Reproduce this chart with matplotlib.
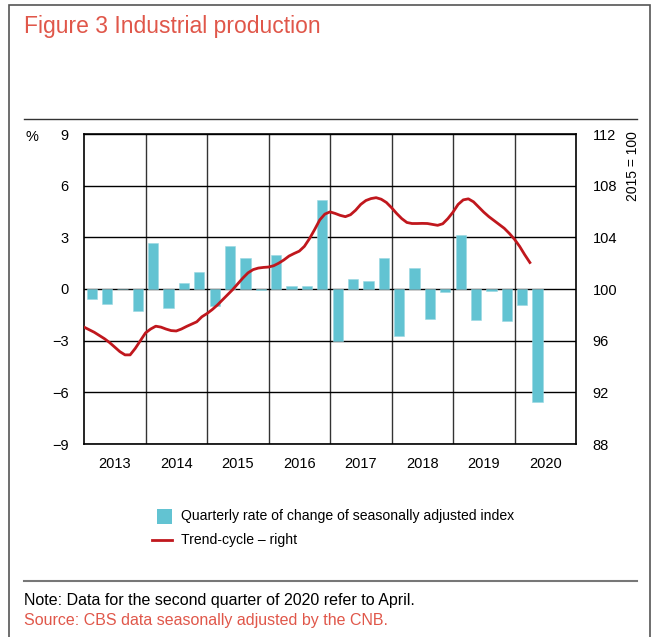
import numpy as np
import matplotlib.pyplot as plt
from matplotlib.patches import Rectangle
from matplotlib.lines import Line2D

plt.rcParams['font.family'] = ['Liberation Sans', 'DejaVu Sans']

# quarterly rate of change, 2013 Q1 .. 2020 Q2 (%)
quarterly = [-0.6, -0.85, 0.0, -1.3,
             2.7, -1.1, 0.35, 1.0,
             -1.0, 2.5, 1.8, -0.05,
             1.95, 0.2, 0.17, 5.15,
             -3.0, 0.6, 0.48, 1.82,
             -2.7, 1.2, -1.75, -0.15,
             3.15, -1.8, -0.1, -1.88,
             -0.9, -6.55]

# trend-cycle, monthly Jan 2013 .. Apr 2020 (2015 = 100)
trend = [97.05, 96.85, 96.65, 96.4, 96.15, 95.85, 95.5, 95.15, 94.9, 94.9, 95.4, 96.0,
         96.6, 96.9, 97.12, 97.05, 96.9, 96.78, 96.75, 96.9, 97.1, 97.28, 97.46, 97.85,
         98.1, 98.4, 98.75, 99.15, 99.55, 99.95, 100.4, 100.85, 101.25, 101.5, 101.62, 101.67,
         101.7, 101.8, 102.0, 102.25, 102.55, 102.75, 102.93, 103.3, 103.9, 104.6, 105.35, 105.8,
         105.97, 105.85, 105.7, 105.6, 105.75, 106.1, 106.55, 106.85, 107.0, 107.07, 106.95, 106.7,
         106.3, 105.85, 105.45, 105.15, 105.07, 105.07, 105.08, 105.07, 105.0, 104.93, 105.05, 105.45,
         105.95, 106.55, 106.9, 106.98, 106.75, 106.35, 105.95, 105.6, 105.3, 105.0, 104.7, 104.3,
         103.85, 103.3, 102.65, 102.05]

years = [2013, 2014, 2015, 2016, 2017, 2018, 2019, 2020]
left_ticks = [-9, -6, -3, 0, 3, 6, 9]
left_labels = ['\u22129', '\u22126', '\u22123', '0', '3', '6', '9']
right_ticks = [88, 92, 96, 100, 104, 108, 112]

bar_color = '#62C3D2'
line_color = '#C0171D'
title_color = '#E0574A'

fig = plt.figure(figsize=(6.54, 6.37), dpi=100)
W, H = 654, 637

def fx(px):
    return px / W

def fy(py):
    return 1 - py / H

# outer frame and separators
fig.add_artist(Rectangle((fx(9), fy(660)), fx(641), (660 - 5) / H, fill=False,
                         edgecolor='#555555', lw=1.2, transform=fig.transFigure))
fig.add_artist(Line2D([fx(24), fx(637)], [fy(119), fy(119)], color='#333333', lw=1.0))
fig.add_artist(Line2D([fx(24), fx(637)], [fy(581), fy(581)], color='#777777', lw=1.5))

fig.text(fx(24), fy(26), 'Figure 3 Industrial production', color=title_color,
         fontsize=16.5, ha='left', va='center')

ax = fig.add_axes([fx(84), fy(444), fx(576 - 84), (444 - 134) / H])
qx = [2013 + (i + 0.5) / 4 for i in range(len(quarterly))]
ax.bar(qx, quarterly, width=0.165, color=bar_color, edgecolor='#9ad8e2', lw=0.4, zorder=2)
ax.set_xlim(2013, 2021)
ax.set_ylim(-9, 9)
ax.set_yticks(left_ticks)
ax.set_yticklabels(left_labels)
ax.set_xticks([y + 0.5 for y in years])
ax.set_xticklabels([str(y) for y in years])
ax.set_xticks(years[1:], minor=True)
ax.tick_params(axis='both', length=0, labelsize=10.5, pad=9)
ax.tick_params(axis='y', pad=11)
ax.tick_params(axis='x', which='minor', length=0)
ax.grid(True, which='minor', axis='x', color='#333333', lw=1.0, zorder=0)
ax.grid(True, which='major', axis='y', color='black', lw=1.0, zorder=0)
for s in ax.spines.values():
    s.set_color('black')
    s.set_linewidth(1.2)

ax2 = ax.twinx()
mx = [2013 + m / 12 for m in range(len(trend))]
ax2.plot(mx, trend, color=line_color, lw=2.0, zorder=3)
ax2.set_ylim(88, 112)
ax2.set_yticks(right_ticks)
ax2.tick_params(axis='y', length=0, labelsize=10.5, pad=12)
for s in ax2.spines.values():
    s.set_visible(False)

fig.text(fx(26), fy(137), '%', fontsize=10.5, ha='left', va='center')
fig.text(fx(633), fy(166), '2015 = 100', fontsize=10, rotation=90, ha='center', va='center')

# legend
fig.add_artist(Rectangle((fx(157), fy(524)), fx(15), 15 / H, facecolor=bar_color,
                         edgecolor='none', transform=fig.transFigure))
fig.text(fx(181), fy(516), 'Quarterly rate of change of seasonally adjusted index',
         fontsize=10.1, ha='left', va='center')
fig.add_artist(Line2D([fx(152), fx(172)], [fy(540), fy(540)], color=line_color, lw=2.0))
fig.text(fx(181), fy(540), 'Trend-cycle \u2013 right', fontsize=10.1, ha='left', va='center')

fig.text(fx(24), fy(600), 'Note: Data for the second quarter of 2020 refer to April.',
         fontsize=11.5, ha='left', va='center')
fig.text(fx(24), fy(621), 'Source: CBS data seasonally adjusted by the CNB.',
         fontsize=11.5, ha='left', va='center', color=title_color)

fig.savefig('out.png', dpi=100)
